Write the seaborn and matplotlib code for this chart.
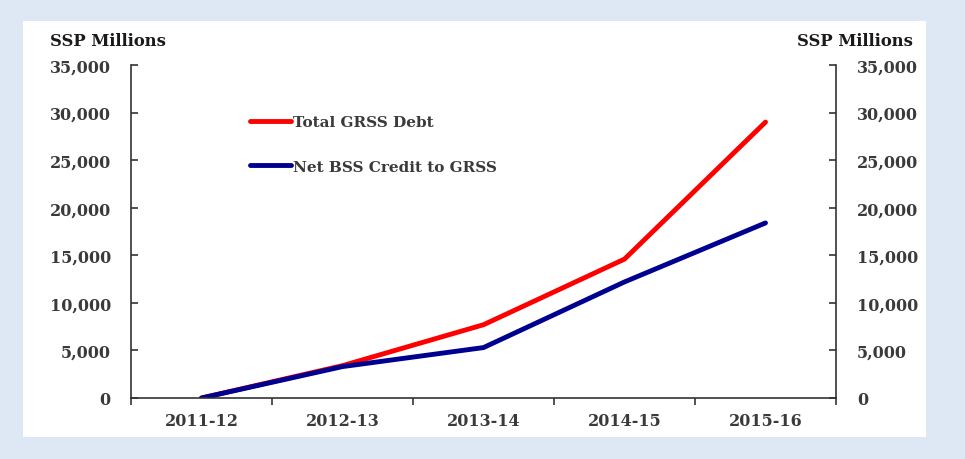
import matplotlib
matplotlib.use("Agg")
import matplotlib.pyplot as plt
import matplotlib.patches as mpatches
import seaborn as sns
import pandas as pd

years = ["2011-12", "2012-13", "2013-14", "2014-15", "2015-16"]
total_grss_debt = [0, 3400, 7700, 14600, 29000]
net_bss_credit = [0, 3300, 5300, 12200, 18400]
series_names = ["Total GRSS Debt", "Net BSS Credit to GRSS"]
y_ticks = [0, 5000, 10000, 15000, 20000, 25000, 30000, 35000]

sns.set_theme(style="white")
plt.rcParams["font.family"] = ["DejaVu Serif"]
txt = "#3a3a3a"
fs = 11.5

df = pd.DataFrame({
    "year": years * 2,
    "x": list(range(len(years))) * 2,
    "value": total_grss_debt + net_bss_credit,
    "series": [series_names[0]] * len(years) + [series_names[1]] * len(years),
})

fig = plt.figure(figsize=(9.65, 4.6), dpi=100)
fig.patch.set_facecolor("#dde8f4")
fig.patches.append(mpatches.Rectangle((23/965, 1-438/460), (926-23)/965, (438-22)/460,
                                      transform=fig.transFigure, facecolor="white",
                                      edgecolor="none", zorder=-5))
ax = fig.add_axes([131/965, 1-399/460, (836-131)/965, (399-66)/460])
ax.set_facecolor("none")

sns.lineplot(data=df, x="x", y="value", hue="series", palette=["#ff0000", "#000090"],
             linewidth=3.5, ax=ax, legend=True)

ax.set_xlim(-0.5, 4.5)
ax.set_ylim(0, 35000)
ax.set_yticks(y_ticks)
ax.set_yticklabels([f"{v:,}" for v in y_ticks])
ax.set_xticks(range(len(years)))
ax.set_xticklabels(years)
ax.set_xticks([i - 0.5 for i in range(len(years) + 1)], minor=True)
ax.tick_params(axis="x", which="major", length=0, pad=10, labelsize=fs, labelcolor=txt)
ax.tick_params(axis="x", which="minor", length=5, width=1.2, direction="out", color="#333333", bottom=True)
ax.tick_params(axis="y", length=5, width=1.2, direction="in", color="#333333", left=True,
               labelsize=fs, labelcolor=txt, pad=14.5)
for lab in ax.get_xticklabels() + ax.get_yticklabels():
    lab.set_fontweight("bold")
ax.set_xlabel("")
ax.set_ylabel("")
for s in ["top", "right"]:
    ax.spines[s].set_visible(False)
for s in ["left", "bottom"]:
    ax.spines[s].set_color("#333333")
    ax.spines[s].set_linewidth(1.2)

ax2 = ax.twinx()
ax2.set_ylim(0, 35000)
ax2.set_yticks(y_ticks)
ax2.set_yticklabels([f"{v:,}" for v in y_ticks])
ax2.tick_params(axis="y", length=5, width=1.2, direction="in", color="#333333", right=True,
                labelsize=fs, labelcolor=txt, pad=15)
for lab in ax2.get_yticklabels():
    lab.set_fontweight("bold")
for s in ["top", "left", "bottom"]:
    ax2.spines[s].set_visible(False)
ax2.spines["right"].set_color("#333333")
ax2.spines["right"].set_linewidth(1.2)
ax2.grid(False)
ax.grid(False)

leg = ax.legend(loc="upper left", bbox_to_anchor=((250-131)/705, 1-(116-66)/333),
                frameon=False, handlelength=2.7, handletextpad=0.1, labelspacing=2.0,
                prop={"weight": "bold", "size": 11}, borderaxespad=0, borderpad=0)
for t in leg.get_texts():
    t.set_color(txt)

fig.text(50/965, 1-42/460, "SSP Millions", fontsize=11.8, fontweight="bold", color="#1a1a1a",
         ha="left", va="center")
fig.text(913/965, 1-42/460, "SSP Millions", fontsize=11.8, fontweight="bold", color="#1a1a1a",
         ha="right", va="center")

fig.savefig("out.png", dpi=100, facecolor=fig.get_facecolor())
